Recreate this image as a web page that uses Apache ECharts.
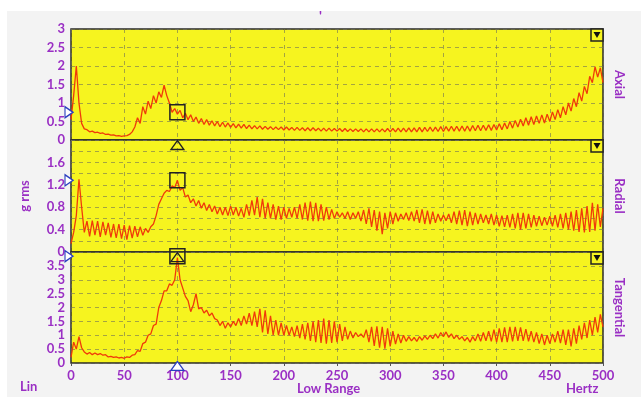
<!DOCTYPE html>
<html><head><meta charset="utf-8">
<script src="https://cdn.jsdelivr.net/npm/echarts@6/dist/echarts.min.js"></script>
<style>html,body{margin:0;padding:0;background:#fff}#c{width:641px;height:397px}</style>
</head><body><div id="c"></div>
<script>
const FREQ_STEP = 2.5; // Hz between samples
const xTickStep = 50;
const xMax = 500;
const panelNames = ['Axial', 'Radial', 'Tangential'];
const yMax = [3, 2, 4];
const yInterval = [0.5, 0.4, 0.5];
const cursorHz = 100;
const cursorValues = [0.75, 1.28, 3.85];
const cursorBelow = [-0.135, -0.09, -0.1];

const axial = [
0.55,1.2,2.0,1.0,0.45,0.3,0.28,0.22,0.24,0.2,0.21,0.18,0.19,0.15,0.16,0.13,0.14,0.11,0.12,0.1,
0.11,0.12,0.15,0.22,0.35,0.6,0.45,0.9,0.7,1.05,0.85,1.2,1.0,1.3,1.15,1.48,1.2,1.0,0.75,0.85,
0.7,0.8,0.6,0.72,0.55,0.68,0.5,0.62,0.45,0.58,0.42,0.55,0.4,0.52,0.38,0.5,0.36,0.48,0.35,0.46,
0.34,0.44,0.33,0.43,0.32,0.42,0.31,0.4,0.3,0.39,0.3,0.38,0.29,0.37,0.29,0.36,0.28,0.35,0.28,0.35,
0.27,0.35,0.27,0.34,0.26,0.34,0.26,0.33,0.25,0.33,0.25,0.33,0.25,0.32,0.24,0.32,0.24,0.32,0.24,0.31,
0.24,0.31,0.23,0.31,0.23,0.3,0.23,0.3,0.23,0.3,0.22,0.3,0.22,0.3,0.22,0.3,0.22,0.3,0.22,0.31,
0.22,0.31,0.22,0.32,0.22,0.32,0.22,0.33,0.22,0.33,0.22,0.34,0.22,0.34,0.23,0.35,0.23,0.35,0.23,0.36,
0.23,0.36,0.24,0.37,0.24,0.37,0.24,0.38,0.24,0.38,0.24,0.39,0.25,0.4,0.25,0.4,0.26,0.41,0.26,0.42,
0.27,0.44,0.28,0.46,0.3,0.5,0.32,0.53,0.35,0.56,0.38,0.6,0.4,0.63,0.42,0.65,0.45,0.68,0.46,0.7,
0.5,0.76,0.55,0.82,0.6,0.9,0.68,1.0,0.78,1.12,0.9,1.28,1.05,1.45,1.25,1.72,1.55,1.98,1.7,1.95,
1.55];

const radial = [
0.15,0.35,0.65,1.3,0.8,0.35,0.55,0.28,0.56,0.3,0.55,0.27,0.54,0.3,0.52,0.26,0.5,0.25,0.5,0.24,
0.48,0.22,0.47,0.25,0.46,0.27,0.45,0.3,0.42,0.35,0.45,0.5,0.65,0.85,0.95,1.05,1.1,1.08,1.18,1.15,
1.28,1.1,1.15,0.98,1.02,0.88,0.95,0.82,0.92,0.78,0.88,0.74,0.85,0.72,0.82,0.68,0.8,0.66,0.8,0.65,
0.82,0.66,0.8,0.64,0.78,0.62,0.85,0.65,0.92,0.66,0.98,0.62,0.95,0.6,0.88,0.6,0.85,0.58,0.82,0.58,
0.8,0.6,0.78,0.62,0.8,0.6,0.85,0.58,0.88,0.56,0.9,0.55,0.88,0.55,0.85,0.56,0.8,0.58,0.76,0.6,
0.72,0.62,0.7,0.6,0.72,0.58,0.7,0.6,0.72,0.55,0.75,0.5,0.78,0.45,0.75,0.38,0.72,0.32,0.7,0.42,
0.72,0.5,0.7,0.55,0.68,0.58,0.7,0.56,0.72,0.55,0.75,0.52,0.76,0.5,0.74,0.5,0.72,0.52,0.68,0.55,
0.66,0.56,0.68,0.52,0.72,0.5,0.74,0.48,0.75,0.46,0.72,0.48,0.7,0.5,0.68,0.52,0.66,0.5,0.68,0.48,
0.66,0.46,0.65,0.45,0.66,0.44,0.68,0.42,0.7,0.4,0.7,0.42,0.68,0.44,0.66,0.46,0.64,0.47,0.62,0.48,
0.64,0.46,0.66,0.44,0.68,0.42,0.7,0.4,0.72,0.38,0.75,0.36,0.78,0.35,0.82,0.36,0.88,0.38,0.85,0.45,
0.78];

const tangential = [
0.2,0.75,0.5,0.95,0.55,0.4,0.32,0.38,0.3,0.36,0.3,0.34,0.28,0.3,0.22,0.24,0.2,0.22,0.18,0.2,
0.17,0.22,0.2,0.28,0.3,0.45,0.42,0.7,0.75,1.0,1.05,1.35,1.4,2.0,2.25,2.6,2.6,2.85,2.8,3.0,
3.8,3.0,2.7,2.4,2.25,1.85,2.1,2.5,1.95,2.0,1.8,1.9,1.7,1.8,1.6,1.55,1.35,1.5,1.25,1.45,
1.3,1.5,1.35,1.6,1.35,1.7,1.4,1.8,1.35,1.85,1.3,1.95,1.1,1.9,1.05,1.7,1.0,1.55,1.0,1.45,
1.0,1.35,1.0,1.3,0.95,1.35,0.9,1.4,0.85,1.45,0.8,1.5,0.75,1.55,0.72,1.6,0.7,1.55,0.72,1.5,
0.75,1.4,0.8,1.3,0.85,1.15,0.9,1.1,0.95,1.05,0.92,1.2,0.75,1.3,0.62,1.32,0.55,1.3,0.52,1.25,
0.6,1.15,0.68,1.05,0.72,1.0,0.78,0.95,0.8,0.92,0.78,0.95,0.82,0.98,0.85,1.0,0.88,1.05,0.9,1.1,
0.95,1.12,0.92,1.05,0.88,1.0,0.85,0.95,0.8,0.92,0.75,0.95,0.8,1.05,0.78,1.1,0.8,1.15,0.78,1.2,
0.75,1.25,0.75,1.28,0.75,1.3,0.78,1.3,0.8,1.28,0.8,1.22,0.78,1.15,0.75,1.1,0.7,1.05,0.65,1.0,
0.7,1.05,0.75,1.15,0.72,1.2,0.65,1.2,0.6,1.25,0.7,1.35,0.85,1.45,0.9,1.55,1.0,1.65,1.1,1.75,
1.3];

const seriesValues = [axial, radial, tangential];

const PURPLE = '#9a2fc4';
const YELLOW = '#f6f41f';
const LINE = '#f03a0a';
const GRIDC = 'rgba(110,110,90,0.6)';
const FONT = 'Lato';

const panels = [
  {top: 29, height: 111},
  {top: 140, height: 112},
  {top: 252, height: 111}
];

const grids = [], xAxes = [], yAxes = [], series = [];
panels.forEach((p, i) => {
  grids.push({left: 71, right: 38, top: p.top, height: p.height, show: true,
    backgroundColor: YELLOW, borderColor: '#2a2a2a', borderWidth: 1.5});
  const last = i === 2;
  xAxes.push({type: 'value', gridIndex: i, min: 0, max: xMax, interval: xTickStep,
    axisLine: {show: false}, axisTick: {show: last, length: 3, lineStyle: {color: '#555'}},
    axisLabel: {show: last, color: PURPLE, fontFamily: FONT, fontWeight: 'bold', fontSize: 13, margin: 6},
    splitLine: {show: true, lineStyle: {type: [4, 4], color: GRIDC, width: 1}}});
  const mx = yMax[i];
  yAxes.push({type: 'value', gridIndex: i, min: 0, max: mx, interval: yInterval[i],
    name: i === 1 ? 'g rms' : '', nameLocation: 'middle', nameGap: 40, nameRotate: 90,
    nameTextStyle: {color: PURPLE, fontFamily: FONT, fontWeight: 'bold', fontSize: 13},
    axisLine: {show: false}, axisTick: {show: false},
    axisLabel: {color: PURPLE, fontFamily: FONT, fontWeight: 'bold', fontSize: 13, margin: 6,
      formatter: v => (i > 0 && Math.abs(v - mx) < 1e-9) ? '' : String(+v.toFixed(2))},
    splitLine: {show: true, lineStyle: {type: [4, 4], color: GRIDC, width: 1}},
    minorTick: {show: false, splitNumber: 2},
    minorSplitLine: {show: i === 1, lineStyle: {type: [4, 4], color: GRIDC, width: 1}}});
  yAxes.push({type: 'value', gridIndex: i, position: 'right', min: 0, max: mx,
    name: panelNames[i], nameLocation: 'middle', nameGap: 10, nameRotate: -90,
    nameTextStyle: {color: PURPLE, fontFamily: FONT, fontWeight: 'bold', fontSize: 13},
    axisLine: {show: false}, axisTick: {show: false}, axisLabel: {show: false}, splitLine: {show: false}});

  const cv = cursorValues[i];
  series.push({type: 'line', xAxisIndex: i, yAxisIndex: 2 * i, symbol: 'none', clip: false,
    lineStyle: {color: LINE, width: 1.3}, animation: false,
    data: seriesValues[i].map((v, k) => [k * FREQ_STEP, v]),
    markPoint: {silent: true, animation: false, label: {show: false},
      data: [
        {coord: [cursorHz, cv], symbol: 'rect', symbolSize: 15,
          itemStyle: {color: 'rgba(0,0,0,0)', borderColor: '#222', borderWidth: 1.5}},
        {coord: [0, cv], symbol: 'triangle', symbolRotate: -90, symbolSize: [11, 8], symbolOffset: [-2, 0],
          itemStyle: {color: '#ffffff', borderColor: '#2b3fc0', borderWidth: 1.3}},
        {coord: [xMax, mx], symbol: 'rect', symbolSize: 12, symbolOffset: [-6, 6],
          itemStyle: {color: YELLOW, borderColor: '#222', borderWidth: 1.5}},
        {coord: [xMax, mx], symbol: 'triangle', symbolRotate: 180, symbolSize: [7, 6], symbolOffset: [-6, 6],
          itemStyle: {color: '#111'}}
      ]}
  });
});

const baseGraphic = [
  {type: 'rect', left: 7, top: 11, shape: {width: 634, height: 386}, style: {fill: '#f3f3f3'}, z: -10, silent: true},
  {type: 'text', left: 20, top: 380, style: {text: 'Lin', fill: PURPLE, font: 'bold 13px Lato'}},
  {type: 'text', left: 297, top: 382, style: {text: 'Low Range', fill: PURPLE, font: 'bold 13px Lato'}},
  {type: 'text', left: 566, top: 382, style: {text: 'Hertz', fill: PURPLE, font: 'bold 13px Lato'}}
];

const chart = echarts.init(document.getElementById('c'), null, {renderer: 'canvas'});
chart.setOption({
  backgroundColor: '#ffffff',
  animation: false,
  title: {text: "'", left: 314, top: 4, textStyle: {color: PURPLE, fontSize: 14, fontWeight: 'bold', fontFamily: FONT}},
  graphic: baseGraphic,
  grid: grids, xAxis: xAxes, yAxis: yAxes, series: series
});

// cursor triangles just below each panel, placed through the axis scales
const tri = cursorBelow.map((v, i) => {
  const [px, py] = chart.convertToPixel({gridIndex: i}, [cursorHz, v]);
  const blue = i === 2;
  return {type: 'polygon', z: 100, silent: true,
    shape: {points: [[px, py - 4.5], [px + 6.5, py + 4.5], [px - 6.5, py + 4.5]]},
    style: {fill: blue ? '#ffffff' : 'rgba(0,0,0,0)', stroke: blue ? '#2b3fc0' : '#222', lineWidth: 1.3}};
});
chart.setOption({graphic: baseGraphic.concat(tri)});
</script></body></html>
